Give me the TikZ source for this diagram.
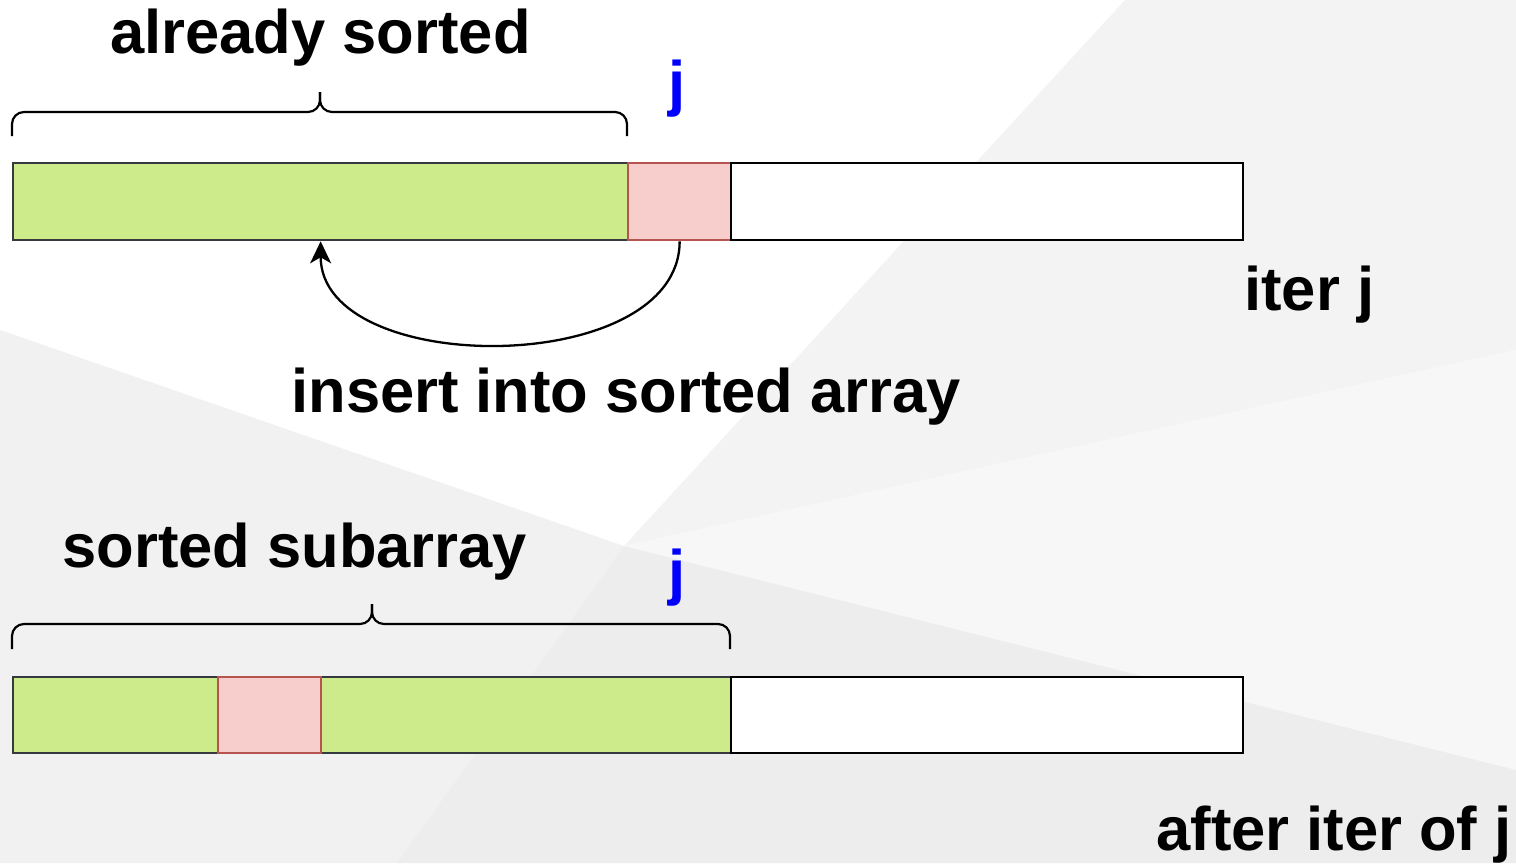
\documentclass[tikz,border=0pt]{standalone}
\usepackage{fontspec}
\setmainfont{Liberation Sans}
\usepackage{xcolor}
\usetikzlibrary{arrows.meta}
\definecolor{SortedFill}{HTML}{CDEB8B}
\definecolor{SortedLine}{HTML}{36393D}
\definecolor{KeyFill}{HTML}{F8CECC}
\definecolor{KeyLine}{HTML}{B85450}
\definecolor{IndexBlue}{HTML}{0000FF}
\definecolor{BgLeft}{HTML}{F1F1F1}
\definecolor{BgTop}{HTML}{F3F3F3}
\definecolor{BgMid}{HTML}{F7F7F7}
\definecolor{BgLow}{HTML}{EDEDED}

\begin{document}
\begin{tikzpicture}[x=0.02cm, y=0.02cm,
    cellbox/.style={draw, line width=0.046cm, inner sep=0pt, anchor=north west, minimum height=\cellheight*0.02cm},
    sortedcell/.style={cellbox, fill=SortedFill, draw=SortedLine},
    keycell/.style={cellbox, fill=KeyFill, draw=KeyLine},
    restcell/.style={cellbox, fill=white, draw=black},
    titletext/.style={font=\fontsize{35pt}{40pt}\selectfont\bfseries, inner sep=0pt, anchor=base west},
    jmark/.style={titletext, anchor=base, text=IndexBlue},
    bracepath/.style={line width=0.044cm}]
        % Define the dimensions of the arrays
        \def\cellheight{77}
        \def\keywidth{103}
        \def\restwidth{512}

        % Background
        \useasboundingbox (0,0) rectangle (1516,-863);
        \fill[white] (0,0) rectangle (1516,-863);
        \fill[BgLeft] (0,-330) -- (624,-546) -- (397,-863) -- (0,-863) -- cycle;
        \fill[BgTop] (1125,0) -- (1516,0) -- (1516,-350) -- (624,-546) -- cycle;
        \fill[BgMid] (1516,-350) -- (624,-546) -- (1516,-770) -- cycle;
        \fill[BgLow] (624,-546) -- (1516,-770) -- (1516,-863) -- (397,-863) -- cycle;

        % Array during iteration j
        \node[sortedcell, minimum width=615*0.02cm] (sortedA) at (12,-162) {};
        \node[keycell, minimum width=\keywidth*0.02cm] (keyA) at (627,-162) {};
        \node[restcell, minimum width=\restwidth*0.02cm] (restA) at (730,-162) {};

        % Array after iteration j
        \node[sortedcell, minimum width=718*0.02cm, minimum height=76*0.02cm] (sortedB) at (12,-676) {};
        \node[keycell, minimum width=\keywidth*0.02cm, minimum height=76*0.02cm] (keyB) at (217,-676) {};
        \node[restcell, minimum width=\restwidth*0.02cm, minimum height=76*0.02cm] (restB) at (730,-676) {};

        % Braces
        \draw[bracepath] (12,-136) -- (12,-124) to[out=90,in=180] (24,-112) -- (308,-112)
            to[out=0,in=-90] (320,-100) -- (320,-92);
        \draw[bracepath] (320,-92) -- (320,-100) to[out=-90,in=180] (332,-112) -- (615,-112)
            to[out=0,in=90] (627,-124) -- (627,-136);
        \draw[bracepath] (12,-649) -- (12,-636) to[out=90,in=180] (24,-624) -- (360,-624)
            to[out=0,in=-90] (372,-612) -- (372,-604);
        \draw[bracepath] (372,-604) -- (372,-612) to[out=-90,in=180] (384,-624) -- (718,-624)
            to[out=0,in=90] (730,-636) -- (730,-649);

        % Insert arrow
        \draw[line width=0.046cm, -{Stealth[length=0.44cm, width=0.42cm, inset=0.12cm]}]
            (keyA.south) .. controls +(0,-137) and +(0,-137) .. (sortedA.south);

        % Texts
        \node[titletext] (alreadyText) at (110,-53) {already sorted};
        \node[jmark] (jTop) at (677,-104) {j};
        \node[titletext] (iterText) at (1244,-310) {iter j};
        \node[titletext] (insertText) at (291,-412) {insert into sorted array};
        \node[titletext] (subarrayText) at (62,-567) {sorted subarray};
        \node[jmark] (jBottom) at (677,-593) {j};
        \node[titletext] (afterText) at (1156,-850) {after iter of j};
    \end{tikzpicture}
\end{document}
